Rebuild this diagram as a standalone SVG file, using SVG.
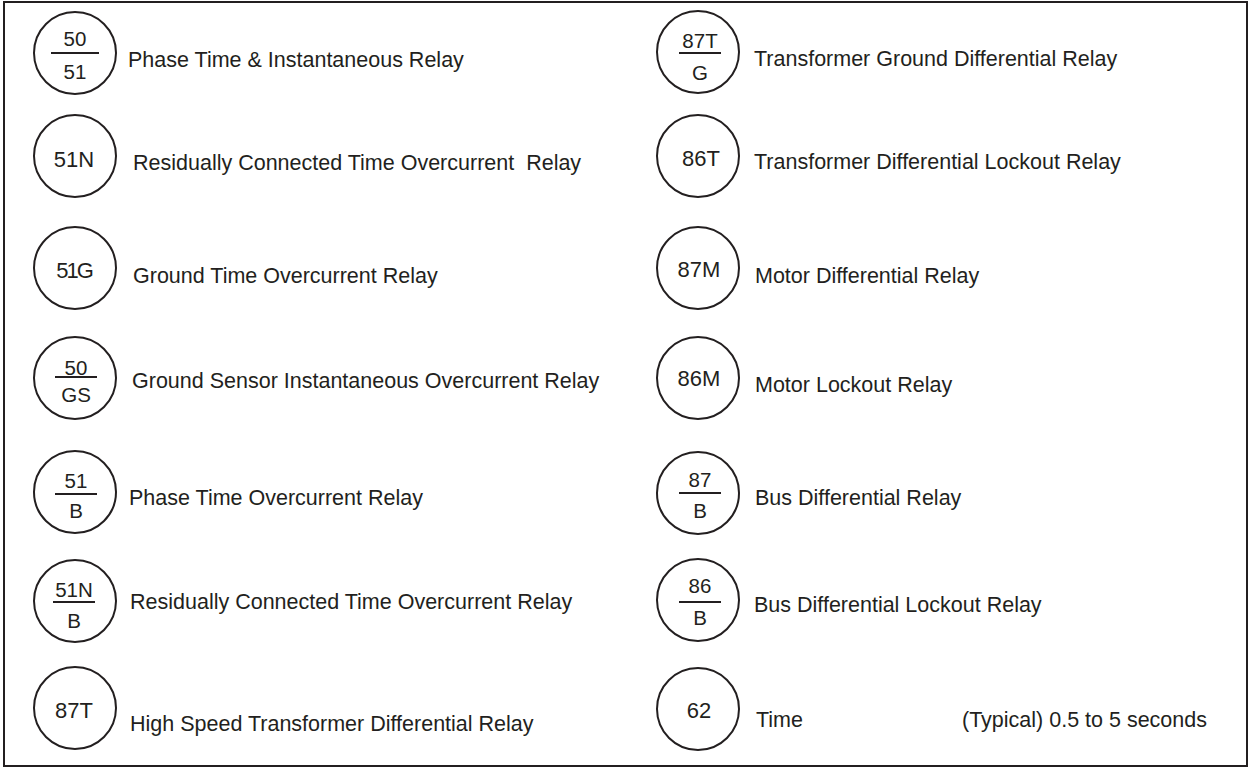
<svg xmlns="http://www.w3.org/2000/svg" width="1249" height="768" viewBox="0 0 1249 768">
  <style>
    .frame { fill: #ffffff; stroke: #231f20; stroke-width: 2; }
    .sym { fill: none; stroke: #231f20; stroke-width: 2; }
    .bar { stroke: #231f20; stroke-width: 2; }
    .lbl { font-family: "Liberation Sans", Arial, sans-serif; font-size: 22px; fill: #231f20; text-anchor: middle; }
    .frac { font-family: "Liberation Sans", Arial, sans-serif; font-size: 20.5px; fill: #231f20; text-anchor: middle; }
    .desc { font-family: "Liberation Sans", Arial, sans-serif; font-size: 21.5px; fill: #231f20; }
  </style>

  <!-- outer frame -->
  <rect class="frame" x="4" y="2" width="1243" height="764"/>

  <!-- left column -->
  <g id="relay-50-51">
    <circle class="sym" cx="75" cy="53" r="41"/>
    <text class="frac" x="75" y="46">50</text>
    <line class="bar" x1="51" y1="53" x2="99" y2="53"/>
    <text class="frac" x="75" y="79">51</text>
    <text class="desc" x="128" y="67">Phase Time &amp; Instantaneous Relay</text>
  </g>

  <g id="relay-51N">
    <circle class="sym" cx="75" cy="156" r="41"/>
    <text class="lbl" x="74" y="167">51N</text>
    <text class="desc" x="133" y="170" xml:space="preserve">Residually Connected Time Overcurrent  Relay</text>
  </g>

  <g id="relay-51G">
    <circle class="sym" cx="75" cy="268" r="41"/>
    <text class="lbl" x="74" y="278" letter-spacing="-2">51G</text>
    <text class="desc" x="133" y="283">Ground Time Overcurrent Relay</text>
  </g>

  <g id="relay-50-GS">
    <circle class="sym" cx="75" cy="378" r="41"/>
    <text class="frac" x="76" y="375">50</text>
    <line class="bar" x1="55" y1="377" x2="97" y2="377"/>
    <text class="frac" x="76" y="402">GS</text>
    <text class="desc" x="132" y="388">Ground Sensor Instantaneous Overcurrent Relay</text>
  </g>

  <g id="relay-51-B">
    <circle class="sym" cx="75" cy="492" r="41"/>
    <text class="frac" x="76" y="488">51</text>
    <line class="bar" x1="55" y1="494" x2="97" y2="494"/>
    <text class="frac" x="76" y="518">B</text>
    <text class="desc" x="129" y="505">Phase Time Overcurrent Relay</text>
  </g>

  <g id="relay-51N-B">
    <circle class="sym" cx="75" cy="601" r="41"/>
    <text class="frac" x="74" y="597">51N</text>
    <line class="bar" x1="53" y1="602" x2="95" y2="602"/>
    <text class="frac" x="74" y="628">B</text>
    <text class="desc" x="130" y="609">Residually Connected Time Overcurrent Relay</text>
  </g>

  <g id="relay-87T">
    <circle class="sym" cx="75" cy="708" r="41"/>
    <text class="lbl" x="74" y="718">87T</text>
    <text class="desc" x="130" y="731">High Speed Transformer Differential Relay</text>
  </g>

  <!-- right column -->
  <g id="relay-87T-G">
    <circle class="sym" cx="698" cy="52" r="41"/>
    <text class="frac" x="700" y="48">87T</text>
    <line class="bar" x1="679" y1="53" x2="721" y2="53"/>
    <text class="frac" x="700" y="80">G</text>
    <text class="desc" x="754" y="66">Transformer Ground Differential Relay</text>
  </g>

  <g id="relay-86T">
    <circle class="sym" cx="698" cy="156" r="41"/>
    <text class="lbl" x="701" y="166">86T</text>
    <text class="desc" x="754" y="169">Transformer Differential Lockout Relay</text>
  </g>

  <g id="relay-87M">
    <circle class="sym" cx="698" cy="268" r="41"/>
    <text class="lbl" x="699" y="277">87M</text>
    <text class="desc" x="755" y="283">Motor Differential Relay</text>
  </g>

  <g id="relay-86M">
    <circle class="sym" cx="698" cy="378" r="41"/>
    <text class="lbl" x="699" y="386">86M</text>
    <text class="desc" x="755" y="392">Motor Lockout Relay</text>
  </g>

  <g id="relay-87-B">
    <circle class="sym" cx="698" cy="493" r="41"/>
    <text class="frac" x="700" y="487">87</text>
    <line class="bar" x1="679" y1="493" x2="721" y2="493"/>
    <text class="frac" x="700" y="518">B</text>
    <text class="desc" x="755" y="505">Bus Differential Relay</text>
  </g>

  <g id="relay-86-B">
    <circle class="sym" cx="698" cy="600" r="41"/>
    <text class="frac" x="700" y="593">86</text>
    <line class="bar" x1="679" y1="602" x2="721" y2="602"/>
    <text class="frac" x="700" y="625">B</text>
    <text class="desc" x="754" y="612">Bus Differential Lockout Relay</text>
  </g>

  <g id="relay-62">
    <circle class="sym" cx="698" cy="709" r="41"/>
    <text class="lbl" x="699" y="718">62</text>
    <text class="desc" x="756" y="727">Time</text>
    <text class="desc" x="962" y="727">(Typical) 0.5 to 5 seconds</text>
  </g>

  <!-- no connectors in this legend -->
  <g id="connectors"/>
</svg>
